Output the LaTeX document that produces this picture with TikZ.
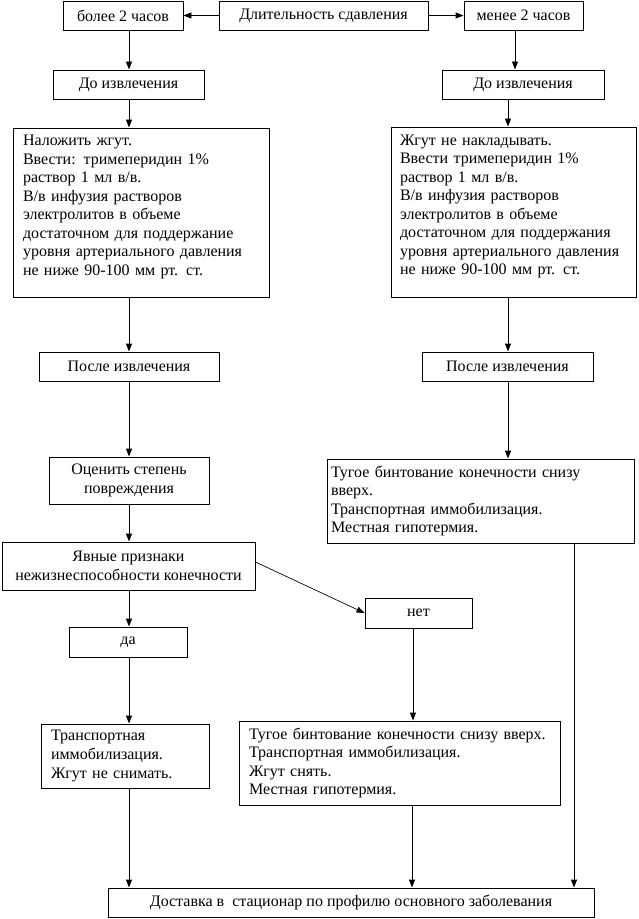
\documentclass[tikz,border=0pt]{standalone}
\usepackage{fontspec}
\setmainfont{Liberation Serif}
\usetikzlibrary{arrows.meta,calc}
\begin{document}
\begin{tikzpicture}[x=0.75pt,y=-0.75pt,
  box/.style={draw, line width=0.7pt, rectangle, inner sep=0pt, align=center,
    font=\fontsize{12}{13.9}\selectfont, minimum height=21.75pt},
  tbox/.style={box, align=left},
  arr/.style={line width=0.7pt, -{Triangle[length=6pt,width=4.5pt]}},
  diag/.style={line width=0.5pt, -{Triangle[length=6pt,width=4.5pt]}}]
\useasboundingbox (0,0) rectangle (638,919);
% top row
\node[box, minimum width=156.75pt] (dur) at (323.5,15.5) {Длительность сдавления};
\node[box, minimum width=90pt] (more) at (123,15.5) {более 2 часов};
\node[box, minimum width=89.25pt] (less) at (523.5,15.5) {менее 2 часов};
% before extraction
\node[box, minimum width=113.25pt] (do1) at (128.5,84.5) {До извлечения};
\node[box, minimum width=121.5pt] (do2) at (523,84.5) {До извлечения};
% big boxes
\node[tbox, minimum width=192pt, minimum height=126.75pt, text width=177pt, inner xsep=7.5pt] (big1) at (141,212.5)
 {Наложить жгут.\\Ввести: тримеперидин 1\%\\раствор 1 мл в/в.\\В/в инфузия растворов\\электролитов в объеме\\достаточном для поддержание\\уровня артериального давления\\не ниже 90-100 мм рт. ст.\rule[-11pt]{0pt}{11pt}};
\node[tbox, minimum width=183.75pt, minimum height=127.5pt, text width=170.25pt, inner xsep=6.75pt] (big2) at (513.5,212)
 {Жгут не накладывать.\\Ввести тримеперидин 1\%\\раствор 1 мл в/в.\\В/в инфузия растворов\\электролитов в объеме\\достаточном для поддержания\\уровня артериального давления\\не ниже 90-100 мм рт. ст.\rule[-11pt]{0pt}{11pt}};
% after extraction
\node[box, minimum width=135pt] (after1) at (129,366.5) {После извлечения};
\node[box, minimum width=128.25pt] (after2) at (507.5,366.5) {После извлечения};
% left chain
\node[box, minimum width=120pt, minimum height=35.25pt] (assess) at (129,480.5) {Оценить степень\\повреждения};
\node[box, minimum width=189.75pt, minimum height=36pt] (signs) at (128.5,566) {Явные признаки\\нежизнеспособности конечности};
\node[box, minimum width=88.5pt, minimum height=22.5pt] (yes) at (128,642) {да};
\node[box, minimum width=80.25pt, minimum height=22.5pt] (no) at (418.5,613) {нет};
% right upper text box
\node[tbox, minimum width=230.25pt, minimum height=63pt, text width=224.25pt, inner xsep=3pt] (tug1) at (480.5,501)
 {Тугое бинтование конечности снизу\\вверх.\\Транспортная иммобилизация.\\Местная гипотермия.};
% lower boxes
\node[tbox, minimum width=126pt, minimum height=48pt, text width=111pt, inner xsep=7.5pt] (trans) at (125,756)
 {Транспортная\\иммобилизация.\\Жгут не снимать.};
\node[tbox, minimum width=240.75pt, minimum height=63pt, text width=225.75pt, inner xsep=7.5pt] (tug2) at (399.5,763)
 {Тугое бинтование конечности снизу вверх.\\Транспортная иммобилизация.\\Жгут снять.\\Местная гипотермия.};
\node[box, minimum width=364.5pt] (deliver) at (351,902.5) {Доставка в\ \ стационар по профилю основного заболевания};
% connectors
\draw[arr] (dur.west) -- (more.east);
\draw[arr] (dur.east) -- (less.west);
\draw[arr] (more.south -| 129,0) -- (do1.north -| 129,0);
\draw[arr] (less.south -| 515,0) -- (do2.north -| 515,0);
\draw[arr] (do1.south -| 129,0) -- (big1.north -| 129,0);
\draw[arr] (do2.south -| 508,0) -- (big2.north -| 508,0);
\draw[arr] (big1.south -| 129,0) -- (after1.north -| 129,0);
\draw[arr] (big2.south -| 508,0) -- (after2.north -| 508,0);
\draw[arr] (after1.south -| 129,0) -- (assess.north -| 129,0);
\draw[arr] (after2.south -| 508,0) -- (tug1.north -| 508,0);
\draw[arr] (assess.south -| 129,0) -- (signs.north -| 129,0);
\draw[arr] (signs.south -| 129,0) -- (yes.north -| 129,0);
\draw[diag] (signs.east |- 0,562) -- (no.west);
\draw[arr] (yes.south -| 129,0) -- (trans.north -| 129,0);
\draw[arr] (no.south -| 413,0) -- (tug2.north -| 413,0);
\draw[arr] (trans.south -| 129,0) -- (deliver.north -| 129,0);
\draw[arr] (tug2.south -| 412,0) -- (deliver.north -| 412,0);
\draw[arr] (tug1.south -| 574,0) -- (deliver.north -| 574,0);
\end{tikzpicture}
\end{document}
